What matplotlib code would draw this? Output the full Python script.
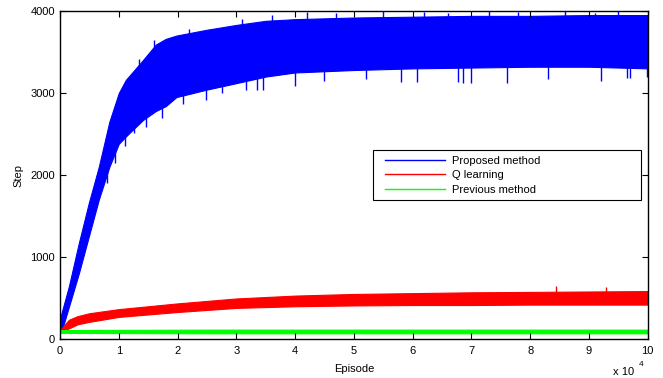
import matplotlib
matplotlib.use("Agg")
import matplotlib.pyplot as plt
from matplotlib.ticker import FuncFormatter
from matplotlib.legend_handler import HandlerLine2D

plt.rcParams['font.family'] = ['Liberation Sans', 'DejaVu Sans']
plt.rcParams['font.size'] = 8

# envelopes (episode, lower / upper step)
blue_ep = [0, 500, 1500, 3200, 4900, 6600, 8400, 10000, 11200, 14100, 16300, 18000,
           19800, 24900, 30000, 35000, 40000, 50000, 60000, 70000, 80000, 90000, 100000]
blue_lo = [100, 150, 390, 800, 1250, 1700, 2100, 2380, 2470, 2670, 2780, 2840,
           2950, 3040, 3120, 3200, 3250, 3280, 3300, 3310, 3320, 3320, 3300]
blue_hi = [250, 380, 640, 1170, 1660, 2100, 2650, 3000, 3160, 3400, 3590, 3660,
           3700, 3770, 3830, 3880, 3900, 3920, 3930, 3940, 3940, 3950, 3950]

red_ep = [0, 500, 1500, 3000, 5000, 10000, 20000, 30000, 40000, 50000,
          60000, 70000, 80000, 90000, 100000]
red_lo = [90, 95, 130, 180, 210, 270, 330, 380, 400, 410, 415, 415, 420, 420, 420]
red_hi = [110, 150, 235, 280, 315, 365, 435, 495, 530, 550, 560, 570, 575, 580, 585]

green_ep = [0, 25000, 50000, 75000, 100000]
green_lo = [75, 70, 70, 70, 70]
green_hi = [110, 115, 115, 115, 115]

# deeper dips / spikes seen in the picture
blue_dip_ep = [8000, 9300, 11000, 12600, 14600, 17300, 21000, 24900, 27500, 31700,
               33500, 34500, 39900, 45000, 52000, 58000, 60700, 67800, 68500,
               70000, 76100, 83000, 92000, 96400, 97000, 99900]
blue_dip_val = [1900, 2150, 2350, 2510, 2590, 2700, 2870, 2915, 3000, 3040,
                3040, 3040, 3085, 3150, 3170, 3140, 3140, 3130, 3120,
                3120, 3120, 3170, 3150, 3180, 3180, 3200]
blue_peak_ep = [13500, 16000, 22000, 31000, 36000, 42000, 47000, 55000, 62000,
                66000, 73000, 78000, 86000, 91000, 95000]
blue_peak_val = [3420, 3650, 3780, 3900, 3950, 3990, 3970, 4000, 3990,
                 3980, 4000, 3990, 4000, 3980, 4000]
red_spike_ep = [84400, 92900]
red_spike_val = [646, 640]

fig = plt.figure(figsize=(6.63, 3.78), dpi=100)
ax = fig.add_axes([0.0905, 0.103, 0.8865, 0.868])

ax.fill_between(blue_ep, blue_lo, blue_hi, color='#0000ff', lw=0.8)
ax.vlines(blue_dip_ep, [v + 250 for v in blue_dip_val], blue_dip_val, color='#0000ff', lw=1)
ax.vlines(blue_peak_ep, [v - 200 for v in blue_peak_val], blue_peak_val, color='#0000ff', lw=1)
ax.fill_between(red_ep, red_lo, red_hi, color='#ff0000', lw=0.8)
ax.vlines(red_spike_ep, [v - 100 for v in red_spike_val], red_spike_val, color='#ff0000', lw=1)
ax.fill_between(green_ep, green_lo, green_hi, color='#00ff00', lw=0.8)

ax.plot([], [], color='#0000ff', lw=1, label='Proposed method')
ax.plot([], [], color='#ff0000', lw=1, label='Q learning')
ax.plot([], [], color='#00ff00', lw=1, label='Previous method')

ax.set_xlim(0, 100000)
ax.set_ylim(0, 4000)
ax.set_xticks(range(0, 100001, 10000))
ax.set_yticks([0, 1000, 2000, 3000, 4000])
ax.xaxis.set_major_formatter(FuncFormatter(lambda v, p: '%d' % round(v / 10000)))
ax.tick_params(direction='in', top=True, right=True, length=4, width=0.8)
ax.tick_params(axis='x', pad=5)
for s in ax.spines.values():
    s.set_linewidth(1)

ax.set_xlabel('Episode', labelpad=6)
ax.set_ylabel('Step', labelpad=5)
fig.text(613 / 663, 1 - 372 / 378, 'x 10', va='center', ha='left')
fig.text(639 / 663, 1 - 365 / 378, '4', va='center', ha='left', fontsize=6)

leg = ax.legend(loc='upper left', bbox_to_anchor=(0.532, 0.476, 0.457, 0.1), mode='expand',
                handlelength=6.0, handletextpad=0.63, borderpad=0.5, labelspacing=0.4,
                borderaxespad=0, fancybox=False, framealpha=1,
                handler_map={matplotlib.lines.Line2D: HandlerLine2D(xpad=0.6)})
leg.get_frame().set_edgecolor('black')
leg.get_frame().set_linewidth(0.8)

fig.savefig('out.png', dpi=100)
